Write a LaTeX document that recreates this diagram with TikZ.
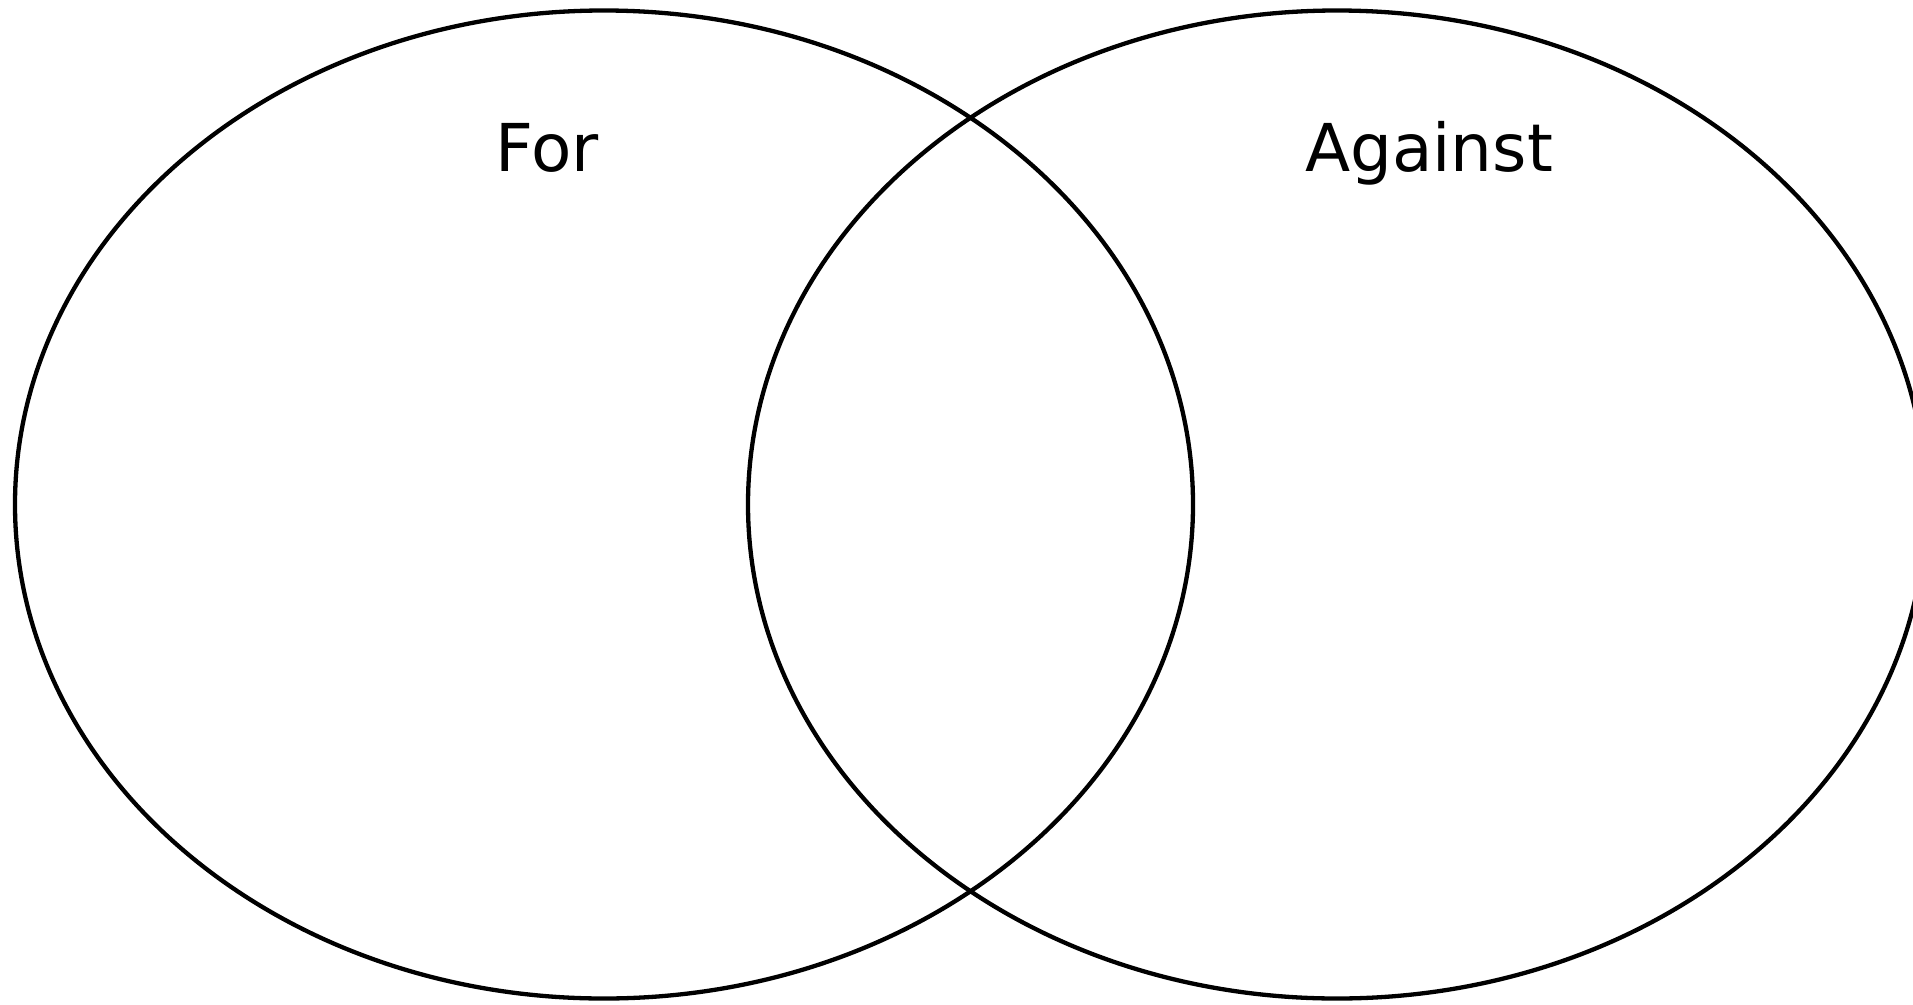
\documentclass[tikz,border=0pt]{standalone}
\usepackage{fontspec}
\setmainfont{DejaVu Sans}
\begin{document}
\begin{tikzpicture}[x=1pt,y=-1pt,
  setring/.style={draw=black,line width=4.3pt},
  lbl/.style={anchor=base,inner sep=0pt,font=\fontsize{66}{70}\selectfont}]
\useasboundingbox[fill=white] (0,0) rectangle (1913,1004);
\begin{scope}
\clip (0,0) rectangle (1913,1004);
\draw[setring] (604,504.5) ellipse [x radius=589, y radius=494];
\draw[setring] (1337,504.5) ellipse [x radius=589, y radius=494];
\end{scope}
\node[lbl] (for) at (547,171) {For};
\node[lbl] (against) at (1429,171) {Against};
\end{tikzpicture}
\end{document}
